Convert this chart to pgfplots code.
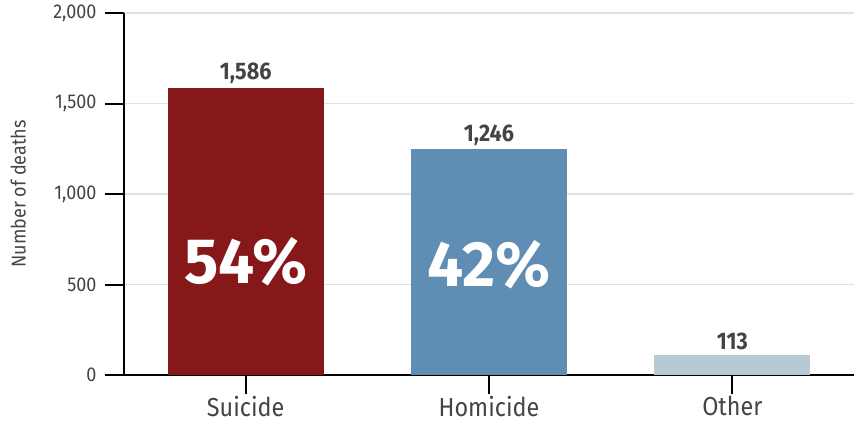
\documentclass[border=0pt]{standalone}
\usepackage{fontspec}
\setmainfont{Fira Sans}[FakeStretch=0.9]
\newfontfamily\bigfont{Fira Sans}[FakeStretch=1.0]
\usepackage{pgfplots}
\pgfplotsset{compat=1.18}
\definecolor{suicidered}{HTML}{86181A}
\definecolor{homblue}{HTML}{5F8DB4}
\definecolor{othergrey}{HTML}{B6CAD4}
\definecolor{txtgrey}{HTML}{444444}
\definecolor{gridgrey}{HTML}{E2E2E2}

\begin{document}
\begin{tikzpicture}
  \begin{axis}[
    scale only axis,
    width=730pt, height=362pt,
    xmin=-0.5, xmax=2.5,
    ymin=0, ymax=2000,
    axis lines*=left,
    axis line style={line width=2pt, black},
    ybar, bar width=156pt,
    xtick={0,1,2},
    xticklabels={Suicide,Homicide,Other},
    ytick={0,500,1000,1500,2000},
    tick align=outside,
    major tick length=19pt,
    xtick style={draw=black, line width=2pt},
    ytick style={draw=black, line width=2pt},
    ymajorgrids,
    grid style={gridgrey, line width=1.5pt},
    /pgf/number format/assume math mode=true,
    /pgf/number format/1000 sep={,},
    yticklabel style={font=\fontsize{20}{22}\selectfont, text=txtgrey, xshift=-5pt},
    xticklabel style={font=\fontsize{26}{28}\selectfont, text=txtgrey, yshift=1pt},
    ylabel={Number of deaths},
    every axis y label/.style={at={(axis description cs:-0.145,0.5)}, rotate=90, anchor=center},
    ylabel style={font=\fontsize{20}{22}\selectfont, text=txtgrey},
    nodes near coords,
    every node near coord/.append style={font=\fontsize{24}{26}\selectfont\bfseries, text=txtgrey, inner sep=4pt},
  ]
    \addplot[fill=suicidered, draw=none, bar shift=0pt] coordinates {(0,1586)};
    \addplot[fill=homblue, draw=none, bar shift=0pt] coordinates {(1,1246)};
    \addplot[fill=othergrey, draw=none, bar shift=0pt] coordinates {(2,113)};
    \node[text=white, font=\fontsize{64}{66}\selectfont\bigfont\bfseries] at (axis cs:0,624) {54\%};
    \node[text=white, font=\fontsize{64}{66}\selectfont\bigfont\bfseries] at (axis cs:1,608) {42\%};
  \end{axis}
  \pgfresetboundingbox
  \path ([xshift=-124pt,yshift=-49pt]current axis.south west) rectangle ([yshift=13pt]current axis.north east);
\end{tikzpicture}
\end{document}
